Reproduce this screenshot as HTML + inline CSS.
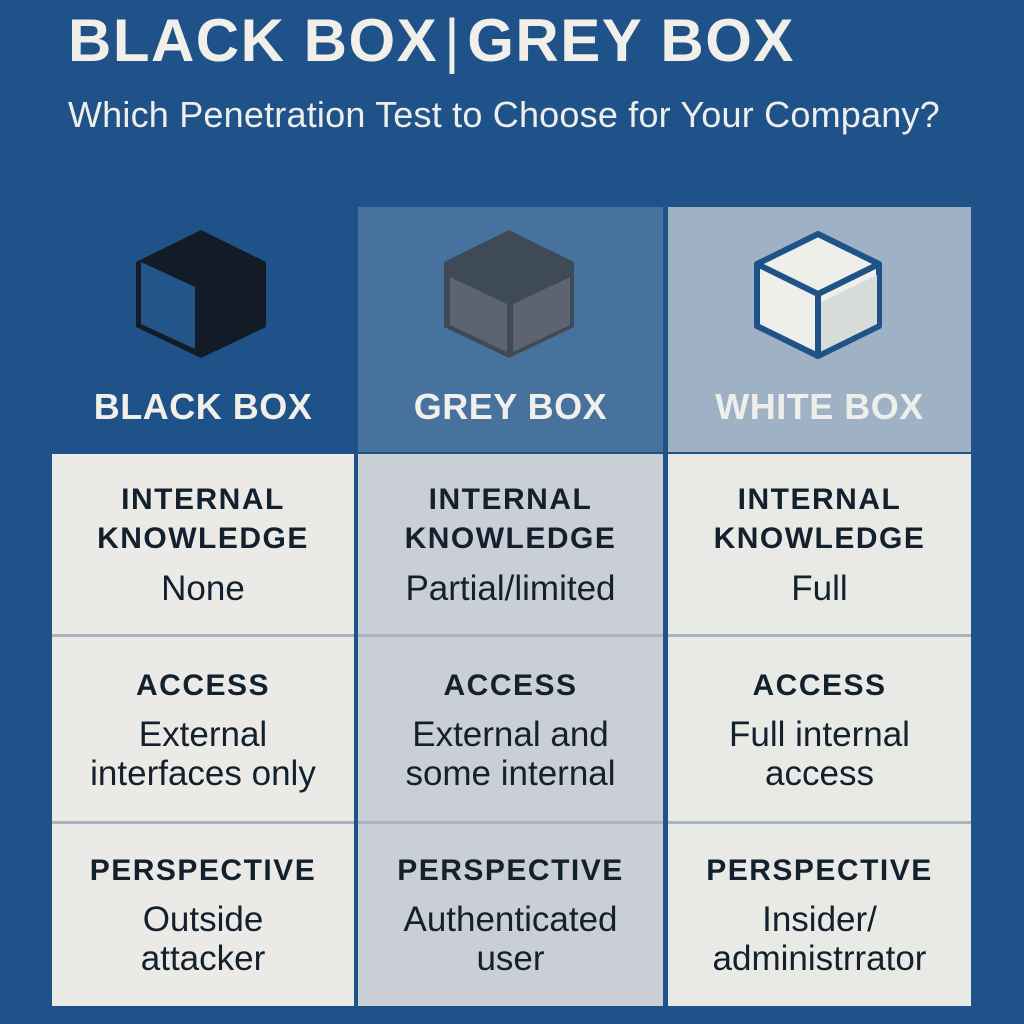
<!DOCTYPE html>
<html><head><style>
body{margin:0;width:1024px;height:1024px;background:#1f5288;position:relative;overflow:hidden;font-family:"Liberation Sans",sans-serif}
.a{position:absolute}
h1{position:absolute;left:68px;top:6px;margin:0;font-size:60px;font-weight:bold;color:#f0efea;letter-spacing:1.5px;white-space:nowrap}
.sub{left:68px;top:94px;font-size:36px;color:#eeeeea;white-space:nowrap;letter-spacing:0.2px}
.hd{position:absolute;top:207px;height:245px}
.ht{position:absolute;top:179px;width:100%;text-align:center;font-size:36px;font-weight:bold;letter-spacing:0.5px;color:#f0efea}
.cell{position:absolute;text-align:center;color:#13202e}
.l{font-weight:bold;font-size:30px;letter-spacing:1.5px;line-height:39px}
.v{font-size:35px;line-height:39px;margin-top:11px}
</style></head><body>
<h1>BLACK BOX<span style="font-weight:normal;margin:0 6px">|</span>GREY BOX</h1>
<div class="a sub">Which Penetration Test to Choose for Your Company?</div>

<div class="hd" style="left:52px;width:302px"><div class="ht">BLACK BOX</div></div>
<div class="hd" style="left:358px;width:305px;background:#46729d"><div class="ht">GREY BOX</div></div>
<div class="hd" style="left:668px;width:303px;background:#9fb1c5"><div class="ht" style="color:#eeeeea">WHITE BOX</div></div>

<svg class="a" style="left:0;top:0" width="1024" height="460">
<polygon points="201,230 266,262 266,327 201,358 136,327 136,262" fill="#131c26"/>
<polygon points="141,262 195,287 195,349 141,324" fill="#22558a"/>
<polygon points="509,230 574,262 574,327 509,358 444,327 444,262" fill="#3f4a57"/>
<polygon points="450,277 507,304 507,352 450,325" fill="#5d6370"/>
<polygon points="513,304 570,277 570,325 513,352" fill="#5d6370"/>
<polygon points="818,234 879,264 879,326 818,356 757,326 757,264" fill="#eeeeea" stroke="#1f5288" stroke-width="6" stroke-linejoin="round"/>
<polygon points="820,303 877,275 877,324 820,352" fill="#d7dcd9"/>
<polyline points="757,264 818,294 879,264" fill="none" stroke="#1f5288" stroke-width="6" stroke-linejoin="round"/>
<line x1="818" y1="294" x2="818" y2="356" stroke="#1f5288" stroke-width="6"/>
</svg>

<div class="a" style="left:52px;top:454px;width:302px;height:552px;background:#ebeae6"></div>
<div class="a" style="left:358px;top:454px;width:305px;height:552px;background:#c9cfd4"></div>
<div class="a" style="left:668px;top:454px;width:303px;height:552px;background:#e9e9e6"></div>
<div class="a" style="left:52px;top:634px;width:919px;height:3px;background:#a8b4c1"></div>
<div class="a" style="left:52px;top:821px;width:919px;height:3px;background:#a8b4c1"></div>
<div class="a" style="left:354px;top:454px;width:4px;height:552px;background:#1f5288"></div>
<div class="a" style="left:663px;top:454px;width:5px;height:552px;background:#1f5288"></div>

<div class="cell" style="left:52px;width:302px;top:480px"><div class="l">INTERNAL<br>KNOWLEDGE</div><div class="v">None</div></div>
<div class="cell" style="left:358px;width:305px;top:480px"><div class="l">INTERNAL<br>KNOWLEDGE</div><div class="v">Partial/limited</div></div>
<div class="cell" style="left:668px;width:303px;top:480px"><div class="l">INTERNAL<br>KNOWLEDGE</div><div class="v">Full</div></div>

<div class="cell" style="left:52px;width:302px;top:666px"><div class="l">ACCESS</div><div class="v" style="margin-top:10px">External<br>interfaces only</div></div>
<div class="cell" style="left:358px;width:305px;top:666px"><div class="l">ACCESS</div><div class="v" style="margin-top:10px">External and<br>some internal</div></div>
<div class="cell" style="left:668px;width:303px;top:666px"><div class="l">ACCESS</div><div class="v" style="margin-top:10px">Full internal<br>access</div></div>

<div class="cell" style="left:52px;width:302px;top:851px"><div class="l">PERSPECTIVE</div><div class="v" style="margin-top:10px">Outside<br>attacker</div></div>
<div class="cell" style="left:358px;width:305px;top:851px"><div class="l">PERSPECTIVE</div><div class="v" style="margin-top:10px">Authenticated<br>user</div></div>
<div class="cell" style="left:668px;width:303px;top:851px"><div class="l">PERSPECTIVE</div><div class="v" style="margin-top:10px">Insider/<br>administrrator</div></div>
</body></html>
